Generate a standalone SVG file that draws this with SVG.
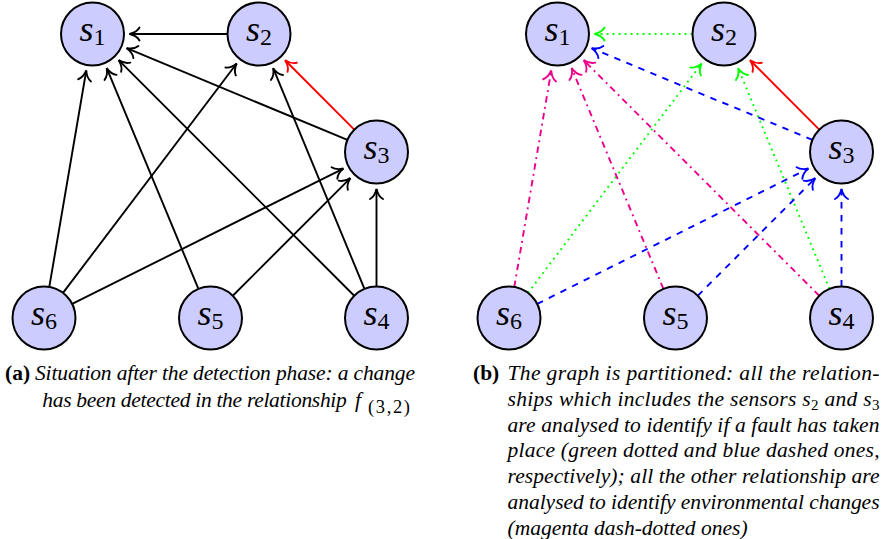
<svg xmlns="http://www.w3.org/2000/svg" width="882" height="539" viewBox="0 0 882 539">
<style>
.node circle{fill:#ccccff;stroke:#000;stroke-width:2}
.node text{fill:#000;stroke:none}
</style>
<defs>
<path id="tip" d="M-10,-6.5 C-8.2,-3.2 -3,-0.7 0,0 C-3,0.7 -8.2,3.2 -10,6.5"/>
<marker id="ak" markerUnits="userSpaceOnUse" viewBox="-12 -9 14 18" markerWidth="14" markerHeight="18" refX="0" refY="0" orient="auto"><use href="#tip" fill="none" stroke="#000" stroke-width="1.9" stroke-linecap="round"/></marker>
<marker id="ar" markerUnits="userSpaceOnUse" viewBox="-12 -9 14 18" markerWidth="14" markerHeight="18" refX="0" refY="0" orient="auto"><use href="#tip" fill="none" stroke="#f00" stroke-width="1.9" stroke-linecap="round"/></marker>
<marker id="ag" markerUnits="userSpaceOnUse" viewBox="-12 -9 14 18" markerWidth="14" markerHeight="18" refX="0" refY="0" orient="auto"><use href="#tip" fill="none" stroke="#0f0" stroke-width="1.9" stroke-linecap="round"/></marker>
<marker id="ab" markerUnits="userSpaceOnUse" viewBox="-12 -9 14 18" markerWidth="14" markerHeight="18" refX="0" refY="0" orient="auto"><use href="#tip" fill="none" stroke="#00f" stroke-width="1.9" stroke-linecap="round"/></marker>
<marker id="am" markerUnits="userSpaceOnUse" viewBox="-12 -9 14 18" markerWidth="14" markerHeight="18" refX="0" refY="0" orient="auto"><use href="#tip" fill="none" stroke="#ec008c" stroke-width="1.9" stroke-linecap="round"/></marker>
</defs>

<g id="connectors-a" fill="none" stroke-width="1.9">
<g stroke="#000" marker-end="url(#ak)">
<line x1="227.5" y1="34" x2="129.5" y2="34"/>
<line x1="347.41" y1="139.91" x2="126.67" y2="48.2"/>
<line x1="354.23" y1="295.73" x2="118.66" y2="60.16"/>
<line x1="364.46" y1="288.89" x2="273.15" y2="68.19"/>
<line x1="376.5" y1="286.5" x2="376.5" y2="189"/>
<line x1="198.41" y1="288.91" x2="106.7" y2="68.17"/>
<line x1="232.77" y1="295.73" x2="350.34" y2="178.16"/>
<line x1="49.3" y1="286.95" x2="86.27" y2="70.47"/>
<line x1="63.01" y1="292.89" x2="236.67" y2="63.5"/>
<line x1="72.18" y1="303.93" x2="343.4" y2="168.53"/>
</g>
<line stroke="#f00" marker-end="url(#ar)" x1="354.27" y1="129.68" x2="285.11" y2="60.22"/>
</g>

<g id="connectors-b" fill="none" stroke-width="1.9">
<g stroke="#0f0" stroke-dasharray="1.9 4.1" marker-end="url(#ag)">
<line x1="692.5" y1="34" x2="594.5" y2="34"/>
<line x1="829.46" y1="288.89" x2="738.15" y2="68.19"/>
<line x1="528.01" y1="292.89" x2="701.67" y2="63.5"/>
</g>
<g stroke="#00f" stroke-dasharray="6.5 6.5" marker-end="url(#ab)">
<line x1="812.41" y1="139.91" x2="591.67" y2="48.2"/>
<line x1="841.5" y1="286.5" x2="841.5" y2="189"/>
<line x1="697.77" y1="295.73" x2="815.34" y2="178.16"/>
<line x1="537.18" y1="303.93" x2="808.4" y2="168.53"/>
</g>
<g stroke="#ec008c" stroke-dasharray="6.5 4.3 1.9 4.3" marker-end="url(#am)">
<line x1="819.23" y1="295.73" x2="583.66" y2="60.16"/>
<line x1="663.41" y1="288.91" x2="571.7" y2="68.17"/>
<line x1="514.3" y1="286.95" x2="551.27" y2="70.47"/>
</g>
<line stroke="#f00" marker-end="url(#ar)" x1="819.27" y1="129.68" x2="750.11" y2="60.22"/>
</g>

<g id="nodes" font-family="Liberation Serif, serif" font-size="36" font-style="italic" text-anchor="middle">
<g id="a-s1" class="node"><circle cx="92.5" cy="34" r="31.5"/><text x="92.5" y="40.5">s<tspan font-style="normal" font-size="24" dy="4.5">1</tspan></text></g>
<g id="a-s2" class="node"><circle cx="259" cy="34" r="31.5"/><text x="259" y="40.5">s<tspan font-style="normal" font-size="24" dy="4.5">2</tspan></text></g>
<g id="a-s3" class="node"><circle cx="376.5" cy="152" r="31.5"/><text x="376.5" y="158.5">s<tspan font-style="normal" font-size="24" dy="4.5">3</tspan></text></g>
<g id="a-s4" class="node"><circle cx="376.5" cy="318" r="31.5"/><text x="376.5" y="324.5">s<tspan font-style="normal" font-size="24" dy="4.5">4</tspan></text></g>
<g id="a-s5" class="node"><circle cx="210.5" cy="318" r="31.5"/><text x="210.5" y="324.5">s<tspan font-style="normal" font-size="24" dy="4.5">5</tspan></text></g>
<g id="a-s6" class="node"><circle cx="44" cy="318" r="31.5"/><text x="44" y="324.5">s<tspan font-style="normal" font-size="24" dy="4.5">6</tspan></text></g>
<g id="b-s1" class="node"><circle cx="557.5" cy="34" r="31.5"/><text x="557.5" y="40.5">s<tspan font-style="normal" font-size="24" dy="4.5">1</tspan></text></g>
<g id="b-s2" class="node"><circle cx="724" cy="34" r="31.5"/><text x="724" y="40.5">s<tspan font-style="normal" font-size="24" dy="4.5">2</tspan></text></g>
<g id="b-s3" class="node"><circle cx="841.5" cy="152" r="31.5"/><text x="841.5" y="158.5">s<tspan font-style="normal" font-size="24" dy="4.5">3</tspan></text></g>
<g id="b-s4" class="node"><circle cx="841.5" cy="318" r="31.5"/><text x="841.5" y="324.5">s<tspan font-style="normal" font-size="24" dy="4.5">4</tspan></text></g>
<g id="b-s5" class="node"><circle cx="675.5" cy="318" r="31.5"/><text x="675.5" y="324.5">s<tspan font-style="normal" font-size="24" dy="4.5">5</tspan></text></g>
<g id="b-s6" class="node"><circle cx="509" cy="318" r="31.5"/><text x="509" y="324.5">s<tspan font-style="normal" font-size="24" dy="4.5">6</tspan></text></g>
</g>

<g id="caption-a" font-family="Liberation Serif, serif" font-size="21.5" font-style="italic">
<text x="5" y="380" font-weight="bold" font-style="normal">(a)</text>
<text x="35" y="380" textLength="380" lengthAdjust="spacing">Situation after the detection phase: a change</text>
<text x="42.3" y="406.5" textLength="304.5" lengthAdjust="spacing">has been detected in the relationship</text>
<text x="355" y="406.5">f</text>
<text x="368" y="413" font-style="normal" font-size="18.5" textLength="42" lengthAdjust="spacing">(3,2)</text>
</g>

<g id="caption-b" font-family="Liberation Serif, serif" font-size="21.5" font-style="italic">
<text x="473" y="380" font-weight="bold" font-style="normal">(b)</text>
<text x="507.5" y="380" textLength="372" lengthAdjust="spacing">The graph is partitioned:  all the relation-</text>
<text x="507.5" y="405.8" textLength="372" lengthAdjust="spacing">ships which includes the sensors s<tspan font-style="normal" font-size="15" dy="4">2</tspan><tspan dy="-4"> and s</tspan><tspan font-style="normal" font-size="15" dy="4">3</tspan></text>
<text x="507.5" y="431.6" textLength="372" lengthAdjust="spacing">are analysed to identify if a fault has taken</text>
<text x="507.5" y="457.4" textLength="372" lengthAdjust="spacing">place (green dotted and blue dashed ones,</text>
<text x="507.5" y="483.2" textLength="372" lengthAdjust="spacing">respectively); all the other relationship are</text>
<text x="507.5" y="509" textLength="372" lengthAdjust="spacing">analysed to identify environmental changes</text>
<text x="507.5" y="534.8">(magenta dash-dotted ones)</text>
</g>
</svg>
